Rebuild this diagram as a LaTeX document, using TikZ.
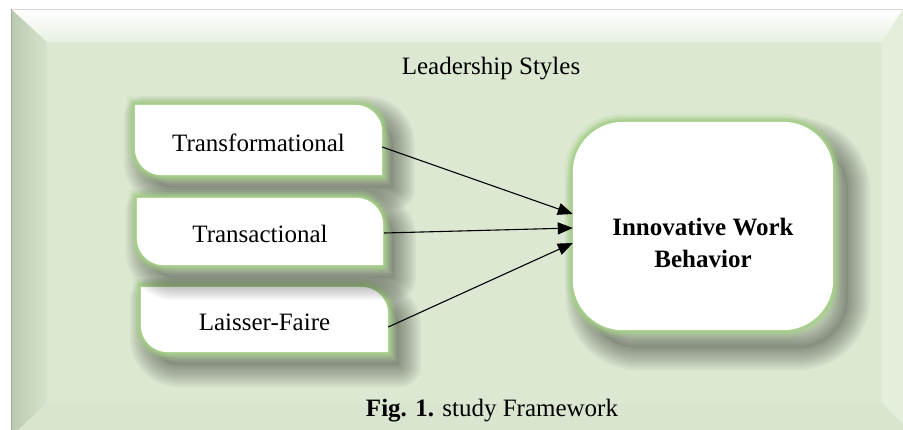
\documentclass[tikz,border=0pt]{standalone}
\usepackage{fontspec}
\setmainfont{Liberation Serif}
\usetikzlibrary{calc,arrows.meta}
\definecolor{bgc}{HTML}{DCE8D2}
\definecolor{glowc}{HTML}{A5CF88}
\definecolor{leftc}{HTML}{BAC9B0}
\definecolor{rightc}{HTML}{E4EEDB}
\definecolor{botc}{HTML}{D9E5CF}
\pgfdeclarelayer{frame}
\pgfdeclarelayer{boxes}
\pgfsetlayers{frame,boxes,main}
\newcommand\leafpath[2]{(#1.north west) -- ($(#1.north east)+(-#2,0)$) .. controls ($(#1.north east)+(-0.448*#2,0)$) and ($(#1.north east)+(0,0.448*#2)$) .. ($(#1.north east)+(0,#2)$) -- (#1.south east) -- ($(#1.south west)+(#2,0)$) .. controls ($(#1.south west)+(0.448*#2,0)$) and ($(#1.south west)+(0,-0.448*#2)$) .. ($(#1.south west)+(0,-#2)$) -- cycle}
\newcommand\glowbox[3]{%
  \begin{scope}[transform canvas={shift={(#2,-#3)}}]
    \foreach \w in {44,40,...,4} {\draw[black, opacity=0.036, line width=\w pt, line join=round] #1;}
    \fill[black, opacity=0.06] #1;
  \end{scope}
  \draw[glowc, line width=16pt, opacity=0.18] #1;
  \draw[glowc, line width=11pt, opacity=0.3] #1;
  \draw[glowc, line width=7pt, opacity=0.55] #1;
  \draw[glowc, line width=3pt] #1;
  \fill[white] #1;}
\tikzset{
  txt/.style={font=\fontsize{25}{32}\selectfont, inner sep=0pt},
  leaf/.style={txt, text height=22pt, text depth=0pt},
  arr/.style={line width=1.1pt, -{Triangle[length=15pt,width=12pt]}}
}
\begin{document}
\begin{tikzpicture}[x=1pt,y=-1pt]
\useasboundingbox (0,0) rectangle (903,429);
% nodes
\node[leaf, minimum width=247pt, minimum height=70pt] (t1) at (258.5,140) {Transformational};
\node[leaf, minimum width=246pt, minimum height=67pt] (t2) at (260,231.5) {Transactional};
\node[leaf, minimum width=247pt, minimum height=65pt] (t3) at (264.5,319.5) {Laisser-Faire};
\node[minimum width=260pt, minimum height=208pt, inner sep=0pt] (iwb) at (703,226) {};
\node[txt, align=center, font=\fontsize{25}{32}\selectfont\bfseries] (iwbt) at (703,243) {Innovative Work\\Behavior};
\node[txt] (title) at (491,69) {Leadership Styles};
\node[txt] (cap) at (492,411) {\textbf{Fig. 1.} study Framework};
% frame
\begin{pgfonlayer}{frame}
\fill[white] (0,0) rectangle (903,429);
\fill[bgc] (47,42) rectangle (882,403);
\shade[top color=white, bottom color=white!35!bgc] (11,9) -- (903,9) -- (882,42) -- (47,42) -- cycle;
\shade[left color=leftc, right color=bgc!85!leftc] (11,9) -- (47,42) -- (47,403) -- (11,437) -- cycle;
\fill[rightc] (903,9) -- (882,42) -- (882,403) -- (903,424) -- cycle;
\fill[botc] (11,437) -- (47,403) -- (882,403) -- (903,424) -- (903,437) -- cycle;
\draw[black!15, line width=0.6pt] (11,9) -- (903,9);
\draw[black!35, line width=0.8pt] (11,9) -- (11,437);
\end{pgfonlayer}
% boxes
\begin{pgfonlayer}{boxes}
\glowbox{\leafpath{t1}{27}}{11pt}{13pt}
\glowbox{\leafpath{t3}{27}}{11pt}{13pt}
\glowbox{\leafpath{t2}{27}}{11pt}{13pt}
\glowbox{[rounded corners=50pt] (iwb.north west) rectangle (iwb.south east)}{15pt}{18pt}
\end{pgfonlayer}
% arrows
\draw[arr] ($(t1.east)+(0,7)$) -- ($(iwb.west)+(0,-12)$);
\draw[arr] ($(t2.east)+(1,1.5)$) -- ($(iwb.west)+(0,2)$);
\draw[arr] ($(t3.east)+(0,7.5)$) -- ($(iwb.west)+(0,17)$);
\end{tikzpicture}
\end{document}
